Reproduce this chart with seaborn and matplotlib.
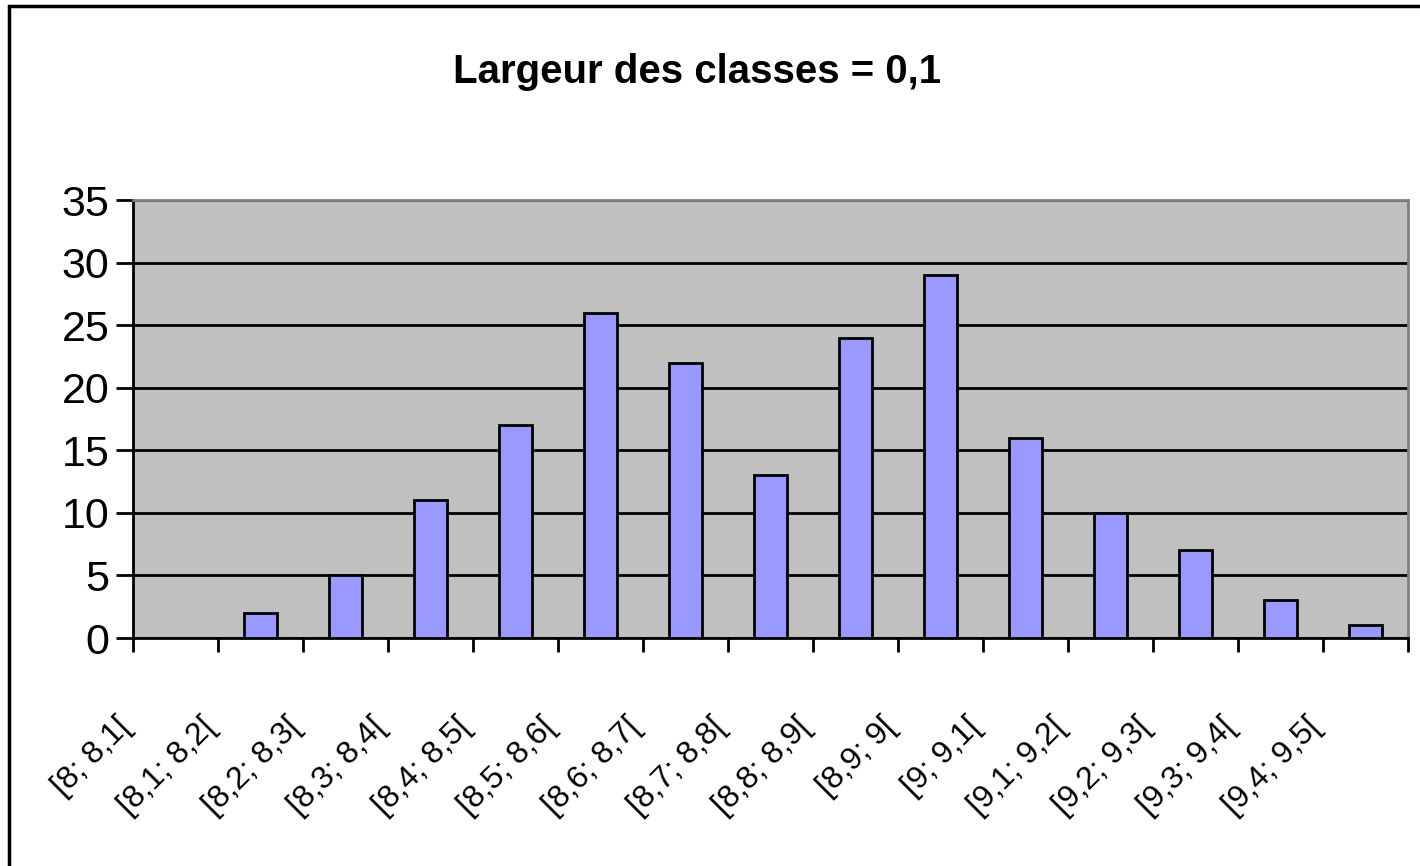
import numpy as np
import pandas as pd
import matplotlib
matplotlib.use("Agg")
import matplotlib.pyplot as plt
import matplotlib.transforms as mtransforms
from matplotlib.patches import Rectangle
import seaborn as sns

# Données du graphique
classes = ["[8; 8,1[", "[8,1; 8,2[", "[8,2; 8,3[", "[8,3; 8,4[", "[8,4; 8,5[",
           "[8,5; 8,6[", "[8,6; 8,7[", "[8,7; 8,8[", "[8,8; 8,9[", "[8,9; 9[",
           "[9; 9,1[", "[9,1; 9,2[", "[9,2; 9,3[", "[9,3; 9,4[", "[9,4; 9,5["]
effectifs = [0, 2, 5, 11, 17, 26, 22, 13, 24, 29, 16, 10, 7, 3, 1]
y_ticks = [0, 5, 10, 15, 20, 25, 30, 35]

sns.set_style("white")
plt.rcParams['font.family'] = ['Liberation Sans', 'DejaVu Sans']

df = pd.DataFrame({'classe': classes, 'effectif': effectifs})

fig = plt.figure(figsize=(14.2, 8.66), dpi=100)
ax = fig.add_axes([133 / 1420, 1 - 638 / 866, (1408 - 133) / 1420, (638 - 200) / 866])
ax.set_facecolor('#C0C0C0')

sns.barplot(data=df, x='classe', y='effectif', color='#9999FF', saturation=1,
            width=0.39, edgecolor='black', linewidth=2, ax=ax, zorder=3)

# Axes et grille
ax.set_ylim(0, 35)
ax.set_xlim(-0.5, len(classes) - 0.5)
ax.set_yticks(y_ticks)
ax.yaxis.grid(True, color='black', linewidth=2, zorder=1)
ax.set_axisbelow(True)
ax.tick_params(axis='y', labelsize=31, labelcolor='black', length=12, width=2,
               color='black', direction='out', left=True, pad=5)

ax.set_xticks(range(len(classes)))
ax.set_xticklabels(classes, rotation=45, ha='right', rotation_mode='anchor',
                   fontsize=23, color='black')
ax.set_xticks(np.arange(-0.5, len(classes)), minor=True)
ax.tick_params(axis='x', which='major', length=0, pad=0)
ax.tick_params(axis='x', which='minor', length=10, width=2, color='black',
               direction='out', bottom=True)
# Décalage des étiquettes comme dans Excel
decal = mtransforms.ScaledTranslation(-0.60, -0.74, fig.dpi_scale_trans)
for lab in ax.get_xticklabels():
    lab.set_transform(lab.get_transform() + decal)

ax.set_xlabel('')
ax.set_ylabel('')

for side in ['left', 'bottom']:
    ax.spines[side].set_color('black')
    ax.spines[side].set_linewidth(2)
for side in ['top', 'right']:
    ax.spines[side].set_visible(True)
    ax.spines[side].set_color('#808080')
    ax.spines[side].set_linewidth(2)

fig.text(697 / 1420, 1 - 83 / 866, 'Largeur des classes = 0,1', fontsize=29,
         fontweight='bold', ha='center', va='baseline', color='black')

# Cadre de la zone de graphique
fig.patches.append(Rectangle((9 / 1420, -0.05), 1.1, 1.05 - 6 / 866,
                             transform=fig.transFigure, fill=False,
                             edgecolor='black', linewidth=2.5))

fig.savefig('out.png', dpi=100)
